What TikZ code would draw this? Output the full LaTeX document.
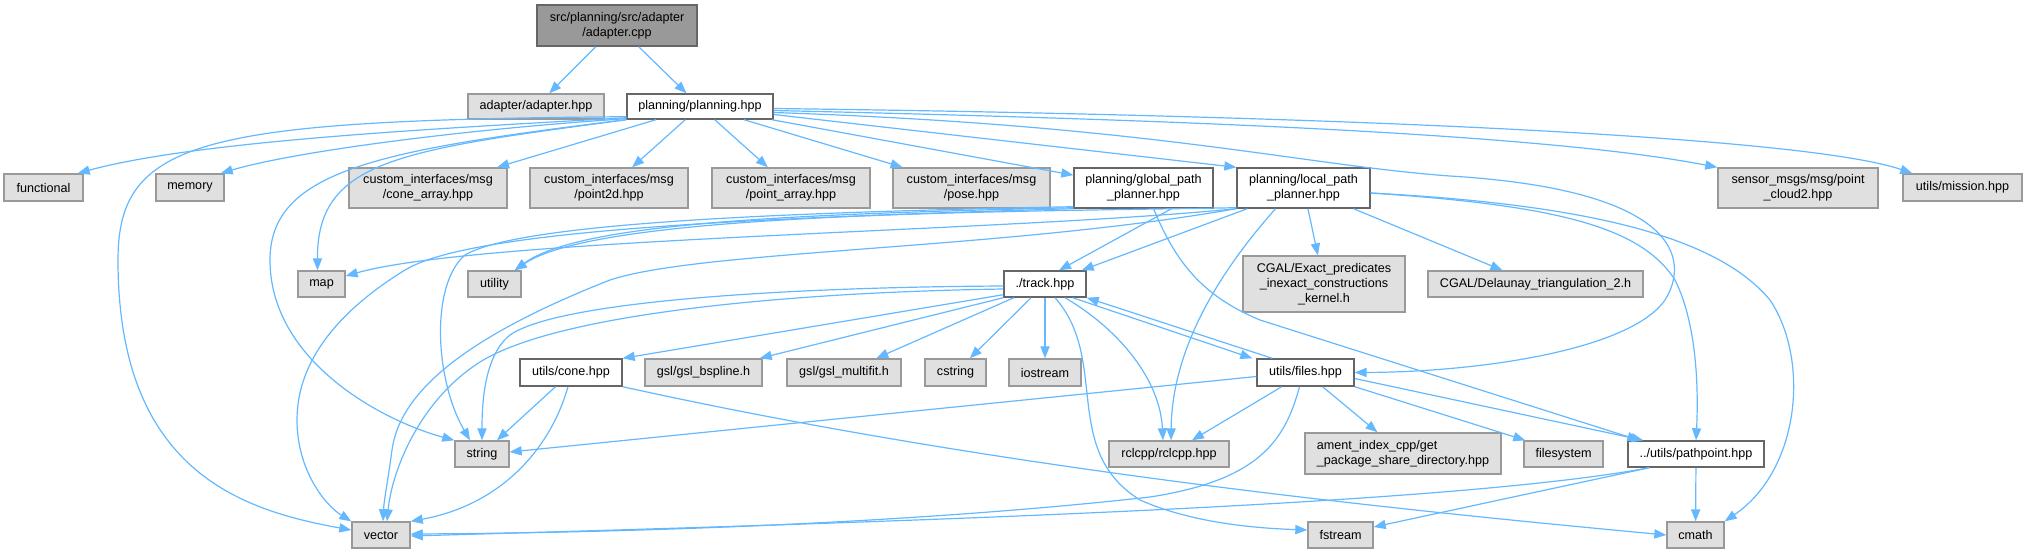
\documentclass[tikz,border=0pt]{standalone}
\usepackage{fontspec}
\setmainfont{Liberation Sans}
\usetikzlibrary{arrows.meta,calc}
\definecolor{edgec}{HTML}{63B8FF}
\definecolor{grayfill}{HTML}{E0E0E0}
\definecolor{grayline}{HTML}{999999}
\definecolor{darkline}{HTML}{666666}
\definecolor{rootfill}{HTML}{999999}
\tikzset{
  box/.style={draw, line width=0.7pt, inner sep=0pt, align=center, font=\fontsize{6.3}{7.5}\selectfont, text=black},
  sysbox/.style={box, fill=grayfill, draw=grayline},
  usrbox/.style={box, fill=white, draw=darkline},
  rootbox/.style={box, fill=rootfill, draw=darkline},
  edge/.style={draw=edgec, line width=0.6pt, -{Triangle[length=6pt,width=4.6pt]}},
}
\newcommand{\nd}[7]{\node[#6, minimum width=#4*0.5pt, minimum height=#5*0.5pt] (#1) at (#2,#3) {#7};}
\begin{document}
\begin{tikzpicture}[x=0.5pt,y=-0.5pt]
\useasboundingbox (0,0) rectangle (2027,553);
% nodes
\nd{root}{617}{25.5}{160}{41}{rootbox}{src/planning/src/adapter\\/adapter.cpp}
\nd{adapterhpp}{536}{106.5}{136}{25}{sysbox}{adapter/adapter.hpp}
\nd{planning}{700}{106.5}{146}{25}{usrbox}{planning/planning.hpp}
\nd{functional}{43.5}{187.5}{79}{27}{sysbox}{functional}
\nd{memory}{190}{187.5}{68}{27}{sysbox}{memory}
\nd{conearray}{428}{188}{158}{40}{sysbox}{custom\_interfaces/msg\\/cone\_array.hpp}
\nd{pointtwod}{609}{188}{158}{40}{sysbox}{custom\_interfaces/msg\\/point2d.hpp}
\nd{pointarray}{791}{188}{158}{40}{sysbox}{custom\_interfaces/msg\\/point\_array.hpp}
\nd{pose}{971.5}{188}{157}{40}{sysbox}{custom\_interfaces/msg\\/pose.hpp}
\nd{global}{1143.5}{188}{139}{40}{usrbox}{planning/global\_path\\\_planner.hpp}
\nd{local}{1303.5}{188}{133}{40}{usrbox}{planning/local\_path\\\_planner.hpp}
\nd{sensor}{1798}{188}{160}{40}{sysbox}{sensor\_msgs/msg/point\\\_cloud2.hpp}
\nd{mission}{1962.5}{187.5}{119}{27}{sysbox}{utils/mission.hpp}
\nd{map}{321.5}{284}{47}{26}{sysbox}{map}
\nd{utility}{494.5}{284}{53}{26}{sysbox}{utility}
\nd{track}{1045}{284}{82}{26}{usrbox}{./track.hpp}
\nd{exact}{1324}{284}{162}{56}{sysbox}{CGAL/Exact\_predicates\\\_inexact\_constructions\\\_kernel.h}
\nd{delaunay}{1535.5}{284}{215}{26}{sysbox}{CGAL/Delaunay\_triangulation\_2.h}
\nd{cone}{571}{372.5}{102}{27}{usrbox}{utils/cone.hpp}
\nd{bspline}{703.5}{372.5}{117}{27}{sysbox}{gsl/gsl\_bspline.h}
\nd{multifit}{844}{372.5}{114}{27}{sysbox}{gsl/gsl\_multifit.h}
\nd{cstring}{955.5}{372.5}{61}{27}{sysbox}{cstring}
\nd{iostream}{1045}{372.5}{72}{27}{sysbox}{iostream}
\nd{files}{1305.5}{372.5}{97}{27}{usrbox}{utils/files.hpp}
\nd{string}{482}{454}{54}{26}{sysbox}{string}
\nd{rclcpp}{1169}{454}{120}{26}{sysbox}{rclcpp/rclcpp.hpp}
\node[sysbox, align=left, minimum width=196*0.5pt, minimum height=41*0.5pt] (ament) at (1403,453.5) {ament\_index\_cpp/get\\\_package\_share\_directory.hpp};
\nd{filesystem}{1563.5}{454}{79}{26}{sysbox}{filesystem}
\nd{pathpoint}{1696}{454}{136}{26}{usrbox}{../utils/pathpoint.hpp}
\nd{vector}{381}{535}{58}{26}{sysbox}{vector}
\nd{fstream}{1340.5}{535}{65}{26}{sysbox}{fstream}
\nd{cmath}{1695.5}{535}{57}{26}{sysbox}{cmath}
% root edges
\draw[edge] (root) -- (adapterhpp);
\draw[edge] (root) -- (planning);
% planning edges
\draw[edge] ($(planning.south west)+(0,-2)$) .. controls (450,128) and (200,140) .. ($(functional.north east)+(-6,0)$);
\draw[edge] ($(planning.south west)+(0,-1)$) .. controls (480,128) and (300,150) .. ($(memory.north east)+(-4,0)$);
\draw[edge] ($(planning.south west)+(0,-3)$) .. controls (200,120) and (118,140) .. (118,260) .. controls (118,470) and (240,510) .. ($(vector.west)+(0,-5)$);
\draw[edge] (planning.south west) .. controls (380,150) and (270,170) .. (270,260) .. controls (270,360) and (380,420) .. (string.north west);
\draw[edge] (planning.south west) .. controls (400,150) and (317,160) .. ($(map.north)+(-4,0)$);
\draw[edge] (planning) -- (conearray);
\draw[edge] (planning) -- (pointtwod);
\draw[edge] (planning) -- (pointarray);
\draw[edge] (planning) -- (pose);
\draw[edge] (planning) -- (global);
\draw[edge] ($(planning.east)+(0,8)$) -- (local.north west);
\draw[edge] ($(planning.east)+(0,4)$) .. controls (1200,120) and (1550,135) .. (sensor.north west);
\draw[edge] ($(planning.east)+(0,2)$) .. controls (1300,115) and (1800,135) .. ($(mission.north west)+(10,0)$);
\draw[edge] ($(planning.east)+(0,6)$) .. controls (1150,125) and (1300,165) .. (1450,176) .. controls (1680,190) and (1690,260) .. (1665,300) .. controls (1630,350) and (1480,372) .. (files.east);
% global edges
\draw[edge] ($(global.south west)+(0,-2)$) .. controls (800,212) and (520,222) .. (465,255) .. controls (430,285) and (435,380) .. ($(string.north)+(-12,0)$);
\draw[edge] ($(global.south west)+(0,-1)$) .. controls (800,214) and (580,222) .. ($(utility.north east)+(-7,0)$);
\draw[edge] (global.south west) .. controls (750,218) and (470,230) .. (405,270) .. controls (340,310) and (297,360) .. (297,420) .. controls (297,470) and (325,505) .. (vector.north west);
\draw[edge] ($(global.south)+(28,0)$) -- ($(track.north)+(14,0)$);
\draw[edge] ($(global.south)+(10,0)$) .. controls (1175,260) and (1200,295) .. (1260,320) -- ($(pathpoint.north west)+(12,0)$);
% local edges
\draw[edge] ($(local.south west)+(0,-1)$) .. controls (1000,212) and (600,212) .. ($(utility.north east)+(-7,0)$);
\draw[edge] (local.south west) .. controls (1000,232) and (480,238) .. ($(map.east)+(0,-8)$);
\draw[edge] (local.south west) .. controls (1000,250) and (700,250) .. (610,280) .. controls (470,335) and (400,390) .. (392,450) .. controls (388,480) and (384,500) .. ($(vector.north)+(2,0)$);
\draw[edge] ($(local.south west)+(11,0)$) -- ($(track.north east)+(-5,0)$);
\draw[edge] (local) -- (exact);
\draw[edge] (local) -- (delaunay);
\draw[edge] ($(local.south)+(-28,0)$) .. controls (1230,260) and (1172,340) .. ($(rclcpp.north)+(2,0)$);
\draw[edge] ($(local.east)+(0,5)$) .. controls (1550,205) and (1640,225) .. (1675,280) .. controls (1695,320) and (1699,380) .. (pathpoint.north);
\draw[edge] ($(local.east)+(0,5)$) .. controls (1600,205) and (1720,240) .. (1770,300) .. controls (1810,360) and (1800,470) .. (cmath.north east);
% track edges
\draw[edge] ($(track.south west)+(0,-3)$) -- (cone.north east);
\draw[edge] (track.south west) -- ($(bspline.north east)+(-3,0)$);
\draw[edge] (track) -- (multifit);
\draw[edge] (track) -- (cstring);
\draw[edge] (track) -- (iostream);
\draw[edge] ($(track.south)+(20,0)$) .. controls (1120,330) and (1160,380) .. ($(rclcpp.north)+(-6,0)$);
\draw[edge] ($(track.south)+(10,0)$) .. controls (1110,360) and (1060,450) .. (1140,500) .. controls (1190,522) and (1250,528) .. ($(fstream.west)+(0,-5)$);
\draw[edge] ($(track.south east)+(-14,0)$) -- ($(files.north west)+(-4,0)$);
\draw[edge] ($(track.west)+(0,2)$) .. controls (800,287) and (560,300) .. (510,335) .. controls (485,355) and (482,400) .. (string.north);
\draw[edge] ($(track.west)+(0,5)$) .. controls (800,292) and (560,312) .. (480,362) .. controls (420,400) and (392,470) .. ($(vector.north)+(6,0)$);
% files edges
\draw[edge] ($(files.north west)+(16,0)$) -- (track.south east);
\draw[edge] ($(files.west)+(0,4)$) -- ($(string.east)+(0,-2)$);
\draw[edge] (files) -- (rclcpp);
\draw[edge] (files) -- (ament);
\draw[edge] (files.south east) -- ($(filesystem.north west)+(2,0)$);
\draw[edge] ($(files.east)+(0,6)$) -- ($(pathpoint.north west)+(16,0)$);
\draw[edge] ($(files.south)+(-6,0)$) .. controls (1285,440) and (1260,480) .. (1150,497) .. controls (900,525) and (600,533) .. ($(vector.east)+(0,-1)$);
% pathpoint edges
\draw[edge] ($(pathpoint.south west)+(22,0)$) .. controls (1450,505) and (900,522) .. ($(vector.east)+(0,1)$);
\draw[edge] ($(pathpoint.south west)+(22,0)$) -- ($(fstream.east)+(0,-8)$);
\draw[edge] (pathpoint) -- (cmath);
% cone edges
\draw[edge] (cone) -- (string);
\draw[edge] ($(cone.south)+(-3,0)$) .. controls (550,450) and (500,505) .. (vector.north east);
\draw[edge] (cone.south east) .. controls (1000,470) and (1400,510) .. (cmath.west);
\end{tikzpicture}
\end{document}
